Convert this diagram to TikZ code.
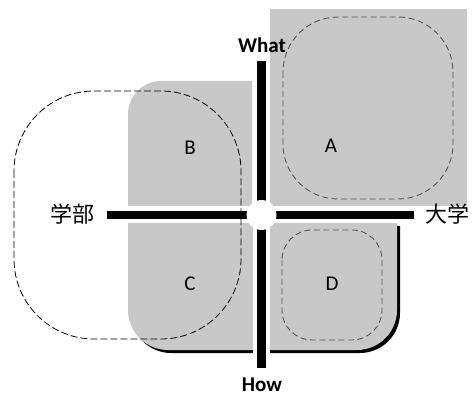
\documentclass[tikz,border=0pt]{standalone}
\usepackage{fontspec}
\setmainfont{Carlito}
\newfontfamily\cjkfont{Noto Sans CJK JP}
\definecolor{fillgray}{RGB}{200,200,200}
\definecolor{dashgray}{RGB}{85,85,85}
\begin{document}
\begin{tikzpicture}[x=1pt,y=-1pt,
  region/.style={fill=fillgray,draw=none},
  gap/.style={draw=white,line width=17pt},
  bar/.style={draw=black,line width=8.5pt},
  dashinner/.style={draw=dashgray,line width=0.9pt,dash pattern=on 6pt off 3.5pt},
  dashouter/.style={draw=black,line width=0.8pt,dash pattern=on 7pt off 3pt},
  lbl/.style={font=\fontsize{21}{21}\selectfont,inner sep=0pt},
  axislbl/.style={font=\fontsize{21}{21}\selectfont\bfseries,inner sep=0pt},
  cjklbl/.style={font=\fontsize{22}{22}\selectfont\cjkfont,inner sep=0pt}]
\useasboundingbox (0,0) rectangle (475,396);
% shadow of lower region
\fill[black,shift={(3,3)}] (128,223) -- (128,310) .. controls (128,332) and (146,350) .. (168,350) -- (357,350) .. controls (379,350) and (397,332) .. (397,310) -- (397,223) -- cycle;
% gray regions
\fill[region] (270,9) rectangle (467,206);
\fill[region] (128,206) -- (128,114) .. controls (128,96) and (143,81) .. (161,81) -- (252,81) -- (252,206) -- cycle;
\fill[region] (128,223) -- (128,310) .. controls (128,332) and (146,350) .. (168,350) -- (357,350) .. controls (379,350) and (397,332) .. (397,310) -- (397,223) -- cycle;
% white gaps
\draw[gap] (261.5,55) -- (261.5,375);
\draw[gap] (100,215) -- (420,215);
% axes
\coordinate (top) at (261.5,61);
\coordinate (bot) at (261.5,368);
\coordinate (lft) at (107,215);
\coordinate (rgt) at (414,215);
\draw[bar] (top) -- (bot);
\draw[bar] (lft) -- (rgt);
\node[circle,fill=white,minimum size=30pt,inner sep=0pt] (c) at (261.5,215) {};
% dashed sets
\draw[dashinner,rounded corners=55pt] (283,17) rectangle (453,199);
\draw[dashinner,rounded corners=30pt] (282,230) rectangle (382,340);
\draw[dashouter,rounded corners=80pt] (14,91) rectangle (241,339);
% labels
\node[axislbl] (what) at (262,45) {What};
\node[axislbl] (how) at (262,385) {How};
\node[cjklbl] (gakubu) at (72,214) {学部};
\node[cjklbl] (daigaku) at (447,214) {大学};
\node[lbl] (A) at (331,146) {A};
\node[lbl] (B) at (190,148) {B};
\node[lbl] (C) at (190,284) {C};
\node[lbl] (D) at (332,284) {D};
\end{tikzpicture}
\end{document}
